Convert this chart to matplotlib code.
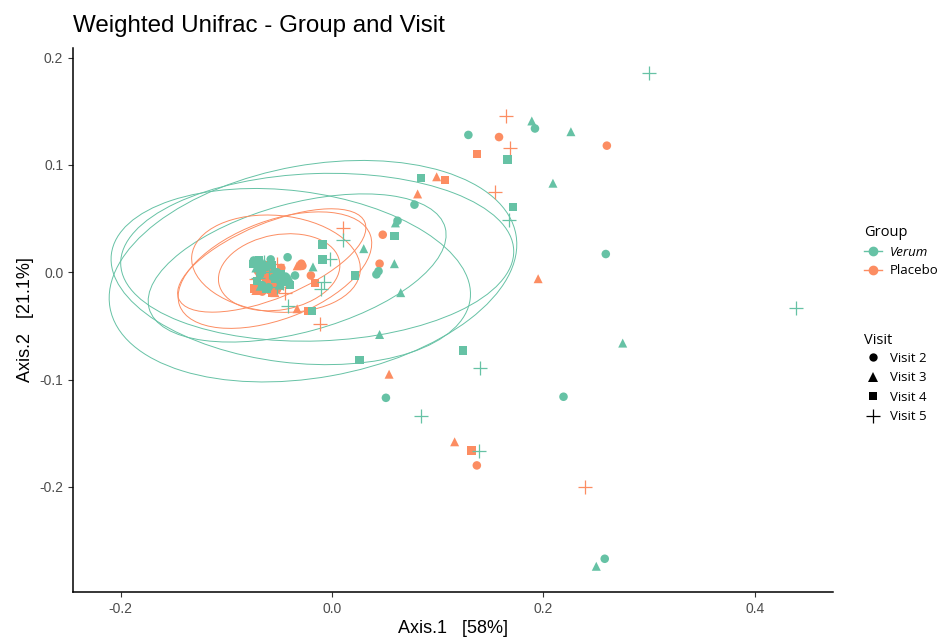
import matplotlib
matplotlib.use("Agg")
import matplotlib.pyplot as plt
from matplotlib.patches import Ellipse
from matplotlib.lines import Line2D

# PCoA coordinates, per group and visit
verum_v2_x = [0.192, 0.129, 0.078, 0.259, 0.219, 0.258, 0.051, 0.044, 0.042, 0.062, -0.042, -0.035,
              -0.070, -0.062, -0.055, -0.048, -0.066, -0.074, -0.058, -0.044, -0.052, -0.068, -0.060]
verum_v2_y = [0.134, 0.128, 0.063, 0.017, -0.116, -0.267, -0.117, 0.001, -0.002, 0.048, 0.014, -0.003,
              0.008, 0.005, -0.005, -0.010, -0.012, 0.011, 0.012, -0.004, 0.000, -0.002, -0.014]
verum_v3_x = [0.189, 0.226, 0.209, 0.275, 0.250, 0.060, 0.030, 0.059, -0.018, 0.065, 0.045,
              -0.058, -0.045, -0.050, -0.072, -0.064, -0.040, -0.055, -0.068]
verum_v3_y = [0.141, 0.131, 0.083, -0.066, -0.274, 0.046, 0.022, 0.008, 0.005, -0.019, -0.058,
              0.010, -0.008, -0.012, 0.004, 0.009, -0.006, 0.004, -0.013]
verum_v4_x = [0.166, 0.084, 0.171, 0.059, -0.009, -0.009, 0.022, -0.019, 0.026, 0.124,
              -0.066, -0.054, -0.040, -0.062, -0.071, -0.075, -0.048, -0.057, -0.044, -0.069]
verum_v4_y = [0.105, 0.088, 0.061, 0.034, 0.026, 0.012, -0.003, -0.036, -0.082, -0.073,
              0.002, -0.006, -0.012, -0.015, -0.008, 0.008, -0.002, 0.007, -0.009, 0.011]
verum_v5_x = [0.300, 0.439, 0.167, 0.010, -0.002, -0.008, -0.010, 0.140, 0.084, 0.139, -0.042,
              -0.060, -0.052, -0.070, -0.064, -0.046]
verum_v5_y = [0.186, -0.033, 0.049, 0.030, 0.012, -0.009, -0.016, -0.089, -0.134, -0.167, -0.031,
              0.000, -0.014, -0.005, 0.010, -0.010]

placebo_v2_x = [0.158, 0.260, 0.048, 0.045, -0.028, -0.020, -0.029, 0.137, -0.064, -0.056, -0.048,
                -0.060, -0.070, -0.052, -0.066]
placebo_v2_y = [0.126, 0.118, 0.035, 0.008, 0.006, -0.003, 0.008, -0.180, 0.006, -0.002, 0.004,
                -0.010, 0.001, -0.016, -0.018]
placebo_v3_x = [0.099, 0.081, 0.195, 0.054, 0.116, -0.033, -0.033, -0.058, -0.050, -0.068,
                -0.062, -0.054, -0.072]
placebo_v3_y = [0.089, 0.073, -0.006, -0.095, -0.158, -0.034, 0.006, -0.016, -0.004, -0.010,
                0.003, -0.019, -0.017]
placebo_v4_x = [0.137, 0.107, -0.016, -0.023, 0.132, -0.062, -0.070, -0.055, -0.058, -0.066, -0.046,
                -0.074, -0.050, -0.063, -0.057, -0.068]
placebo_v4_y = [0.110, 0.086, -0.010, -0.036, -0.166, -0.004, -0.012, -0.010, 0.002, -0.016, -0.006,
                -0.015, -0.013, 0.007, -0.019, 0.004]
placebo_v5_x = [0.165, 0.168, 0.154, 0.010, -0.011, 0.239, -0.044, -0.064, -0.052, -0.072, -0.058]
placebo_v5_y = [0.146, 0.116, 0.075, 0.041, -0.048, -0.200, -0.019, -0.008, 0.008, -0.006, -0.012]

# confidence ellipses: centre x, centre y, semi-axis a, semi-axis b, angle (deg)
verum_ell = [(-0.018, 0.001, 0.195, 0.099, 10),
             (-0.014, 0.014, 0.186, 0.078, 2),
             (-0.033, 0.004, 0.145, 0.060, 15),
             (-0.039, -0.004, 0.171, 0.080, -7)]
placebo_ell = [(-0.054, 0.002, 0.096, 0.046, 20),
               (-0.053, 0.008, 0.080, 0.045, -5),
               (-0.050, 0.000, 0.058, 0.035, 10),
               (-0.057, 0.011, 0.095, 0.035, 22)]

groups = ["Verum", "Placebo"]
visits = ["Visit 2", "Visit 3", "Visit 4", "Visit 5"]
green = "#66C2A5"
orange = "#FC8D62"
markers = ["o", "^", "s", "+"]
sizes = [38, 42, 36, 110]

fig = plt.figure(figsize=(9.41, 6.41), dpi=100)
ax = fig.add_axes([0.0776, 0.0764, 0.8077, 0.8487])

for (cx, cy, a, b, ang) in verum_ell:
    ax.add_patch(Ellipse((cx, cy), 2 * a, 2 * b, angle=ang, fill=False, ec=green, lw=0.7))
for (cx, cy, a, b, ang) in placebo_ell:
    ax.add_patch(Ellipse((cx, cy), 2 * a, 2 * b, angle=ang, fill=False, ec=orange, lw=0.7))

data = [
    (green, [(verum_v2_x, verum_v2_y), (verum_v3_x, verum_v3_y), (verum_v4_x, verum_v4_y), (verum_v5_x, verum_v5_y)]),
    (orange, [(placebo_v2_x, placebo_v2_y), (placebo_v3_x, placebo_v3_y), (placebo_v4_x, placebo_v4_y), (placebo_v5_x, placebo_v5_y)]),
]
for col, series in reversed(data):
    for i, (xs, ys) in enumerate(series):
        if markers[i] == "+":
            ax.scatter(xs, ys, marker="+", s=sizes[i], c=col, linewidths=0.9, zorder=3)
        else:
            ax.scatter(xs, ys, marker=markers[i], s=sizes[i], c=col, edgecolors="none", zorder=3)

ax.set_xlim(-0.245, 0.474)
ax.set_ylim(-0.298, 0.209)
ax.set_xticks([-0.2, 0.0, 0.2, 0.4])
ax.set_xticklabels(["-0.2", "0.0", "0.2", "0.4"])
ax.set_yticks([-0.2, -0.1, 0.0, 0.1, 0.2])
ax.set_yticklabels(["-0.2", "-0.1", "0.0", "0.1", "0.2"])
for s in ["top", "right"]:
    ax.spines[s].set_visible(False)
for s in ["left", "bottom"]:
    ax.spines[s].set_linewidth(1.1)
ax.tick_params(length=3.5, width=0.8, colors="#333333", labelcolor="#4D4D4D", labelsize=10)
for lab in ax.get_xticklabels() + ax.get_yticklabels():
    lab.set_family("Liberation Sans")

ax.set_xlabel("Axis.1   [58%]", fontsize=13, family="Liberation Sans", labelpad=3)
ax.set_ylabel("Axis.2   [21.1%]", fontsize=13, family="Liberation Sans", labelpad=4)
fig.text(0.0776, 0.960, "Weighted Unifrac - Group and Visit", fontsize=17.4,
         family="Liberation Sans", va="center", ha="left")

# legends (titles as separate texts so the rows line up)
leg_font = {"family": "Open Sans", "size": 9.5}
fig.text(0.918, 1 - 233 / 641, "Group", fontsize=10.5, family="Open Sans", va="center", ha="left")
fig.text(0.918, 1 - 340 / 641, "Visit", fontsize=10.5, family="Open Sans", va="center", ha="left")

g_handles = [Line2D([0], [0], color=green, marker="o", markersize=6, lw=1),
             Line2D([0], [0], color=orange, marker="o", markersize=6, lw=1)]
leg1 = fig.legend(g_handles, groups, loc="center left",
                  bbox_to_anchor=(0.918, 1 - 261.5 / 641), frameon=False, handlelength=1.4,
                  handletextpad=0.6, labelspacing=0.4, borderaxespad=0, borderpad=0,
                  prop=leg_font)
leg1.get_texts()[0].set_style("italic")

v_handles = [Line2D([0], [0], color="black", marker=m, markersize=ms, lw=0, markeredgewidth=mw)
             for m, ms, mw in zip(markers, [6, 6.5, 6, 10], [0, 0, 0, 0.9])]
leg2 = fig.legend(v_handles, visits, loc="center left",
                  bbox_to_anchor=(0.918, 1 - 387.5 / 641), frameon=False, handlelength=1.4,
                  handletextpad=0.6, labelspacing=0.5, borderaxespad=0, borderpad=0,
                  prop=leg_font)

fig.savefig("out.png", dpi=100)
